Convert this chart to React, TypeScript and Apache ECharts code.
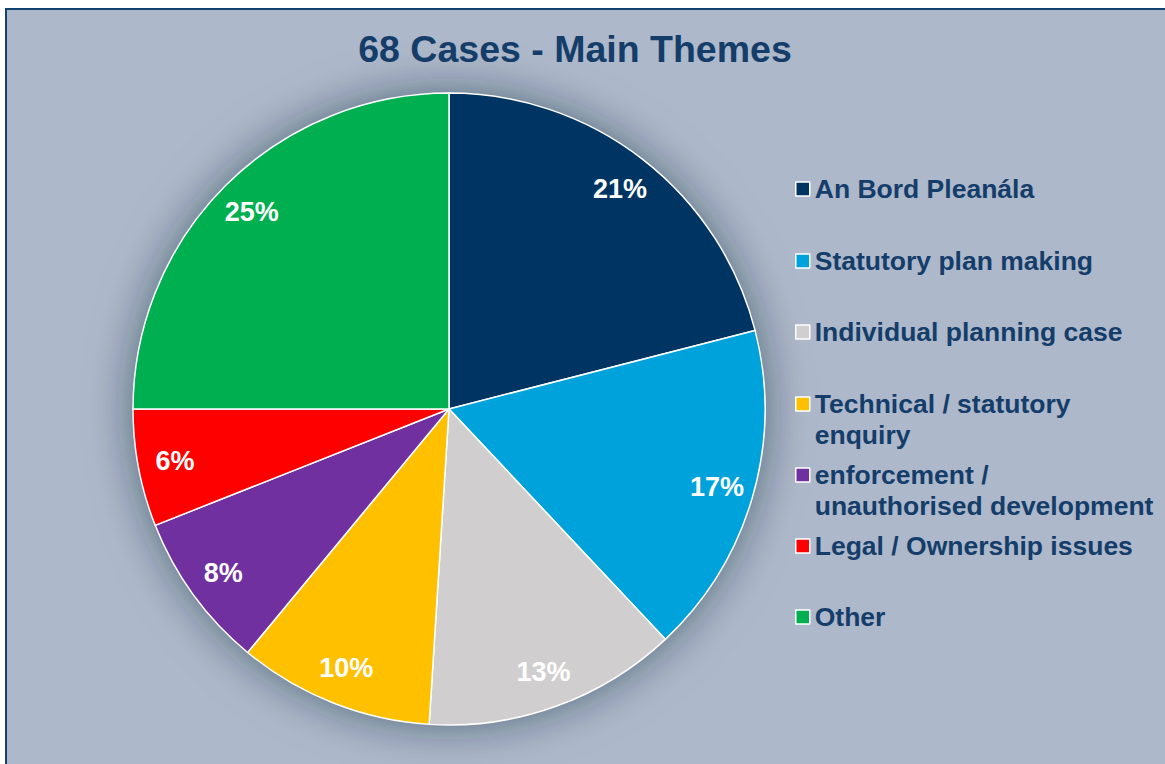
import React, { useEffect, useRef } from "react";
import * as echarts from "echarts";

const TITLE = "68 Cases - Main Themes";
const categories = [
  "An Bord Pleanála",
  "Statutory plan making",
  "Individual planning case",
  "Technical / statutory enquiry",
  "enforcement / unauthorised development",
  "Legal / Ownership issues",
  "Other",
];
const legendLabels = [
  "An Bord Pleanála",
  "Statutory plan making",
  "Individual planning case",
  "Technical / statutory\nenquiry",
  "enforcement /\nunauthorised development",
  "Legal / Ownership issues",
  "Other",
];
const values = [21, 17, 13, 10, 8, 6, 25];
const colors = ["#003462", "#00A2DB", "#D0CECE", "#FFC000", "#7030A0", "#FF0000", "#00B050"];

const FONT = "'Liberation Sans', Arial, sans-serif";
const NAVY = "#153D6A";

export default function App() {
  const ref = useRef<HTMLDivElement>(null);
  useEffect(() => {
    if (!ref.current) return;
    const chart = echarts.init(ref.current, null, { renderer: "svg" });
    const center = [442, 399];
    const R = 316;
    const legendCenters = [179, 251, 322, 394, 465, 536, 607];
    const LH = 31;
    const legends = categories.map((name, i) => {
      const multi = legendLabels[i].includes("\n");
      const h = multi ? LH * 3 : LH;
      return {
        data: [name],
        left: 788,
        top: legendCenters[i] - h / 2,
        padding: 0,
        orient: "vertical",
        selectedMode: false,
        icon: "rect",
        itemWidth: 14,
        itemHeight: 14,
        itemStyle: { borderColor: "#FFFFFF", borderWidth: 1.5 },
        formatter: () => (multi ? " \n" + legendLabels[i] : legendLabels[i]),
        textStyle: {
          color: NAVY,
          fontSize: 26.5,
          fontWeight: "bold",
          fontFamily: FONT,
          lineHeight: LH,
        },
      };
    });
    chart.setOption({
      animation: false,
      backgroundColor: "transparent",
      title: {
        text: TITLE,
        left: 568,
        top: 19.5,
        padding: 0,
        textAlign: "center",
        textStyle: { color: NAVY, fontSize: 37.5, fontWeight: "bold", fontFamily: FONT },
      },
      legend: legends,
      series: [
        {
          type: "pie",
          z: 3,
          center,
          radius: R,
          startAngle: 90,
          clockwise: true,
          silent: true,
          label: { show: false },
          labelLine: { show: false },
          itemStyle: { borderColor: "#FFFFFF", borderWidth: 1.5 },
          data: categories.map((name, i) => ({ name, value: values[i], itemStyle: { color: colors[i] } })),
        },
        {
          type: "pie",
          z: 1,
          center,
          radius: R,
          silent: true,
          label: { show: false },
          labelLine: { show: false },
          itemStyle: {
            color: "#8A96A8",
            shadowBlur: 45,
            shadowColor: "rgba(20,30,50,0.55)",
          },
          data: [{ name: "_bg", value: 1 }],
        },
        {
          type: "pie",
          z: 4,
          center,
          radius: [236, R],
          startAngle: 90,
          clockwise: true,
          silent: true,
          itemStyle: { color: "transparent", borderWidth: 0 },
          labelLine: { show: false },
          label: {
            show: true,
            position: "inside",
            formatter: (p: any) => `${p.value}%`,
            color: "#FFFFFF",
            fontSize: 27,
            fontWeight: "bold",
            fontFamily: FONT,
          },
          data: categories.map((name, i) => ({ name: "lbl_" + name, value: values[i] })),
        },
      ],
    });
    return () => chart.dispose();
  }, []);

  return (
    <div
      style={{
        position: "fixed",
        left: 0,
        top: 0,
        width: 1165,
        height: 764,
        overflow: "hidden",
        background: "#FFFFFF",
      }}
    >
      <div
        style={{
          position: "absolute",
          left: 5,
          top: 8,
          width: 1180,
          height: 780,
          boxSizing: "border-box",
          border: "2px solid #12406F",
          background: "#ADB8CA",
        }}
      >
        <div ref={ref} style={{ position: "absolute", left: 0, top: 0, width: 1176, height: 776 }} />
      </div>
    </div>
  );
}
